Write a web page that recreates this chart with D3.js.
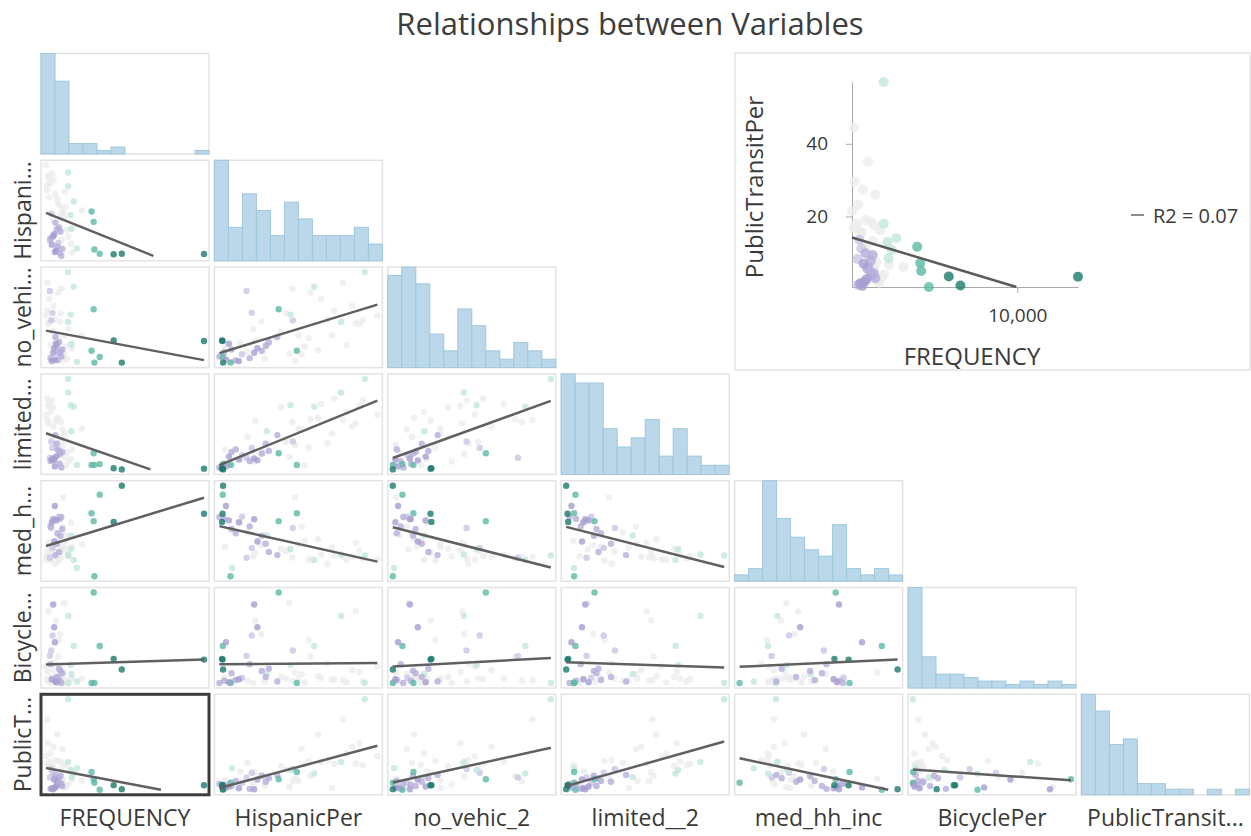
<!DOCTYPE html>
<html>
<head>
<meta charset="utf-8">
<script src="https://cdn.jsdelivr.net/npm/d3@7"></script>
<style>
  body { margin: 0; background: #fff; }
  svg text { font-family: "Open Sans", "Segoe UI", sans-serif; fill: #3a3a3a; }
</style>
</head>
<body>
<svg id="chart" width="1251" height="836"></svg>
<script>

// variables in matrix order, and the labels shown on the sides
var fields = ["FREQUENCY", "HispanicPer", "no_vehic_2", "limited__2", "med_hh_inc", "BicyclePer", "PublicTransitPer"];
var rowLabels = ["", "Hispani...", "no_vehi...", "limited...", "med_h...", "Bicycle...", "PublicT..."];
var colLabels = ["FREQUENCY", "HispanicPer", "no_vehic_2", "limited__2", "med_hh_inc", "BicyclePer", "PublicTransit..."];

// one value per tract
var FREQUENCY = [13650, 6580, 5880, 4680, 3980, 4160, 4220, 1964, 1970, 2720, 2190, 2250, 2450, 3150,
  820, 1240, 560, 1380, 930, 450, 1120, 1460, 680, 1050, 390, 1310, 760, 980, 620, 1190, 510, 870,
  1850, 2210, 1630, 1990, 1420, 2290, 1270, 1760, 1540, 920, 1330, 1680, 1180, 1470, 640, 1110, 280, 1020, 860, 1380, 150, 60, 430, 710, 340, 220, 560, 180];
var HispanicPer = [2.2, 2.4, 2.0, 2.3, 30.4, 23.5, 5.2, 56.2, 47.2, 5.8, 28.0, 19.0, 37.0, 31.0,
  3.5, 2.8, 8.4, 1.0, 4.6, 12.5, 9.6, 5.6, 14.2, 7.2, 11.3, 17.1, 15.4, 18.6, 13.3, 19.8, 28.9, 23.0,
  18.2, 8.9, 27.6, 13.8, 11.7, 3.1, 16.9, 33.4, 29.8, 14.6, 26.3, 43.7, 34.9, 32.2, 24.4, 35.6, 52.8, 38.5, 42.1, 28.7, 44.6, 61.0, 49.3, 51.4, 39.6, 54.1, 55.5, 47.9];
var no_vehic_2 = [8.6, 0.0, 8.8, 2.2, 4.7, 21.2, 0.0, 36.0, 16.2, 0.3, 19.1, 7.2, 30.2, 10.8,
  1.2, 4.1, 0.6, 2.4, 7.5, 1.8, 3.3, 5.2, 3.9, 0.9, 28.5, 4.6, 5.7, 6.6, 19.8, 8.1, 16.8, 10.2,
  1.5, 7.8, 3.6, 13.4, 4.4, 5.5, 16.3, 6.4, 0.7, 8.6, 19.5, 10.9, 9.7, 3.2, 12.6, 27.9, 15.8, 4.9, 17.2, 29.4, 20.6, 18.7, 7.1, 22.5, 25.3, 15.4, 16.9, 31.8];
var limited__2 = [0.2, 0.0, 0.3, 1.4, 1.2, 4.3, 1.2, 24.0, 20.4, 1.2, 17.0, 10.1, 16.6, 10.8,
  0.8, 1.5, 2.6, 0.5, 3.4, 2.2, 3.8, 4.6, 2.9, 5.3, 3.1, 4.2, 2.4, 6.8, 5.7, 4.9, 7.4, 9.1,
  4.5, 2.7, 3.3, 2.1, 8.6, 5.2, 4.1, 1.1, 6.5, 12.9, 7.3, 9.5, 5.8, 10.6, 16.4, 13.3, 12.2, 13.7, 6.9, 12.6, 18.8, 14.5, 15.2, 11.4, 17.3, 16.8, 18.3, 13.1];
var med_hh_inc = [102800, 140000, 92000, 128000, 103500, 93000, 20000, 47600, 48800, 30800, 56000, 74000, 41600, 62000,
  113000, 96000, 91500, 98500, 94000, 86000, 99000, 82500, 95500, 77000, 44500, 73500, 66000, 63000, 57500, 52000, 84000, 48000,
  74500, 91000, 55500, 46500, 78000, 59000, 61500, 67000, 124500, 51500, 53000, 58500, 40800, 85500, 56500, 43500, 64500, 69000, 36500, 44800, 47200, 42200, 41500, 45900, 48500, 54200, 43000, 46000];
var BicyclePer = [3.1, 1.8, 3.2, 4.9, 0.0, 12.0, 0.0, 0.0, 8.9, 0.2, 2.4, 1.2, 4.9, 0.6,
  5.4, 0.3, 0.5, 0.0, 0.1, 2.5, 0.7, 1.3, 10.4, 0.4, 3.6, 1.6, 7.4, 0.8, 6.3, 1.9, 4.3, 0.2,
  0.2, 0.5, 10.6, 0.0, 0.3, 0.7, 6.5, 0.1, 1.4, 8.3, 0.6, 0.4, 5.7, 1.2, 0.8, 3.5, 9.5, 0.9, 2.6, 0.3, 0.5, 2.2, 0.1, 1.7, 0.6, 1.5, 0.2, 0.4];
var PublicTransitPer = [3.4, 1.0, 3.5, 0.6, 11.7, 7.2, 5.0, 57.0, 18.0, 14.1, 13.0, 8.5, 10.8, 6.2,
  2.1, 3.8, 1.6, 4.4, 2.7, 1.2, 4.9, 3.0, 0.9, 6.1, 8.3, 9.4, 7.0, 5.6, 11.2, 7.8, 13.6, 9.9,
  3.2, 12.1, 2.4, 4.0, 17.5, 6.8, 8.9, 16.2, 7.5, 11.4, 13.2, 1.8, 18.6, 26.0, 15.5, 9.2, 17.0, 35.1, 19.0, 5.9, 16.8, 21.5, 23.2, 27.4, 18.1, 29.6, 15.9, 44.5];
// hot spot bin used for the point colours (-3 cold ... 3 hot)
var hotSpot = [3, 3, 3, 2, 2, 2, 2, 1, 1, 1, 1, 1, 1, 0,
  -3, -2, -3, -2, -3, -2, -1, -2, -3, -2, -1, -2, -3, -2, -1, -2, -1, -2,
  0, 0, 0, 0, 0, 0, 0, 0, 0, 0, 0, 0, 0, 0, 0, 0, 0, 0, 0, 0, 0, 0, 0, 0, 0, 0, 0, 0];

var hotColors = ["#a69dd1", "#b6aedb", "#cbc6e6", "#ececec", "#c3e7dd", "#5bb9a5", "#1b7a6b"];

var columns = [FREQUENCY, HispanicPer, no_vehic_2, limited__2, med_hh_inc, BicyclePer, PublicTransitPer];
var data = d3.range(FREQUENCY.length).map(function(i) {
  var row = { hot: hotSpot[i] };
  fields.forEach(function(f, k) { row[f] = columns[k][i]; });
  return row;
});
// coloured points on top of the grey ones
data.sort(function(a, b) { return Math.abs(a.hot) - Math.abs(b.hot) || a.hot - b.hot; });

var color = d3.scaleOrdinal().domain([-3, -2, -1, 0, 1, 2, 3]).range(hotColors);

// grid layout
var gridLeft = 41, gridTop = 53.5, stepX = 173.4, stepY = 106.8, cellW = 168, cellH = 100.5, pad = 5;
var selRow = 6, selCol = 0;

var svg = d3.select("#chart");

svg.append("text")
  .attr("x", 630).attr("y", 23)
  .attr("text-anchor", "middle")
  .attr("dominant-baseline", "central")
  .style("font-size", "31px")
  .style("fill", "#3d3d3d")
  .text("Relationships between Variables");

// least squares fit
function fit(xs, ys) {
  var mx = d3.mean(xs), my = d3.mean(ys);
  var sxy = d3.sum(xs, function(x, i) { return (x - mx) * (ys[i] - my); });
  var sxx = d3.sum(xs, function(x) { return (x - mx) * (x - mx); });
  var syy = d3.sum(ys, function(y) { return (y - my) * (y - my); });
  var b = sxy / sxx;
  return { a: my - b * mx, b: b, r2: (sxy * sxy) / (sxx * syy) };
}

// fitted segment across the x range, cut where it leaves the y range
function segment(f, xd, yd) {
  var pts = [xd[0], xd[1]].map(function(x) { return [x, f.a + f.b * x]; });
  pts.forEach(function(p) {
    if (p[1] < yd[0]) { p[0] = (yd[0] - f.a) / f.b; p[1] = yd[0]; }
    if (p[1] > yd[1]) { p[0] = (yd[1] - f.a) / f.b; p[1] = yd[1]; }
  });
  return pts;
}

var extents = fields.map(function(f) { return d3.extent(data, function(d) { return d[f]; }); });

fields.forEach(function(yf, r) {
  fields.forEach(function(xf, c) {
    if (c > r) return;
    var cx = gridLeft + c * stepX, cy = gridTop + r * stepY;
    var g = svg.append("g");

    if (r === c) {
      // histogram on the diagonal
      var vals = data.map(function(d) { return d[xf]; });
      var ext = extents[c];
      var th = d3.range(1, 12).map(function(k) { return ext[0] + k * (ext[1] - ext[0]) / 12; });
      var bins = d3.bin().domain(ext).thresholds(th)(vals);
      var hx = d3.scaleLinear().domain(ext).range([cx, cx + cellW]);
      var hy = d3.scaleLinear().domain([0, d3.max(bins, function(b) { return b.length; })]).range([cy + cellH, cy]);
      g.append("rect")
        .attr("x", cx).attr("y", cy).attr("width", cellW).attr("height", cellH)
        .attr("fill", "none").attr("stroke", "#e3e3e3").attr("stroke-width", 1.5);
      g.selectAll(".bar")
        .data(bins.filter(function(b) { return b.length > 0; }))
        .enter().append("rect")
        .attr("class", "bar")
        .attr("x", function(b) { return hx(b.x0); })
        .attr("y", function(b) { return hy(b.length); })
        .attr("width", function(b) { return hx(b.x1) - hx(b.x0); })
        .attr("height", function(b) { return cy + cellH - hy(b.length); })
        .attr("fill", "#bad8e9")
        .attr("stroke", "#9fc7dd")
        .attr("stroke-width", 1);
    } else {
      var sx = d3.scaleLinear().domain(extents[c]).range([cx + pad, cx + cellW - pad]);
      var sy = d3.scaleLinear().domain(extents[r]).range([cy + cellH - pad, cy + pad]);
      var sel = (r === selRow && c === selCol);
      g.append("rect")
        .attr("x", cx).attr("y", cy).attr("width", cellW).attr("height", cellH)
        .attr("fill", "#fff")
        .attr("stroke", sel ? "#3c3c3c" : "#e3e3e3")
        .attr("stroke-width", sel ? 3 : 1.5);
      g.selectAll("circle")
        .data(data)
        .enter().append("circle")
        .attr("cx", function(d) { return sx(d[xf]); })
        .attr("cy", function(d) { return sy(d[yf]); })
        .attr("r", 3.2)
        .attr("fill", function(d) { return color(d.hot); })
        .attr("fill-opacity", 0.8);
      var f = fit(data.map(function(d) { return d[xf]; }), data.map(function(d) { return d[yf]; }));
      var seg = segment(f, extents[c], extents[r]);
      g.append("line")
        .attr("x1", sx(seg[0][0])).attr("y1", sy(seg[0][1]))
        .attr("x2", sx(seg[1][0])).attr("y2", sy(seg[1][1]))
        .attr("stroke", "#606060").attr("stroke-width", 2.5);
    }
  });
});

// side labels
rowLabels.forEach(function(t, i) {
  if (!t) return;
  var y = gridTop + i * stepY + cellH / 2;
  svg.append("text")
    .attr("transform", "translate(22," + y + ") rotate(-90)")
    .attr("text-anchor", "middle")
    .attr("dominant-baseline", "central")
    .style("font-size", "23px")
    .text(t);
});
colLabels.forEach(function(t, i) {
  svg.append("text")
    .attr("x", gridLeft + i * stepX + cellW / 2)
    .attr("y", 817)
    .attr("text-anchor", "middle")
    .attr("dominant-baseline", "central")
    .style("font-size", "23px")
    .text(t);
});

// enlarged view of the selected pair
var bx = 735, by = 53, bw = 515, bh = 317;
var big = svg.append("g");
big.append("rect")
  .attr("x", bx).attr("y", by).attr("width", bw).attr("height", bh)
  .attr("fill", "#fff").attr("stroke", "#e3e3e3").attr("stroke-width", 1.5);

var xField = fields[selCol], yField = fields[selRow];
var bxs = d3.scaleLinear().domain(extents[selCol]).range([852, 1078]);
var bys = d3.scaleLinear().domain(extents[selRow]).range([287, 82]);

var yAxis = big.append("g")
  .attr("transform", "translate(852,0)")
  .call(d3.axisLeft(bys).ticks(3).tickSize(6).tickSizeOuter(0).tickPadding(18));
var xAxis = big.append("g")
  .attr("transform", "translate(0,287)")
  .call(d3.axisBottom(bxs).ticks(1).tickFormat(d3.format(",")).tickSize(6).tickSizeOuter(0).tickPadding(16));
[xAxis, yAxis].forEach(function(ax) {
  ax.selectAll("path, line").attr("stroke", "#a8a8a8");
  ax.selectAll("text").style("font-size", "19px").attr("fill", "#444");
});

big.selectAll("circle")
  .data(data)
  .enter().append("circle")
  .attr("cx", function(d) { return bxs(d[xField]); })
  .attr("cy", function(d) { return bys(d[yField]); })
  .attr("r", 5)
  .attr("fill", function(d) { return color(d.hot); })
  .attr("fill-opacity", 0.8);

var bf = fit(data.map(function(d) { return d[xField]; }), data.map(function(d) { return d[yField]; }));
var bseg = segment(bf, extents[selCol], extents[selRow]);
big.append("line")
  .attr("x1", bxs(bseg[0][0])).attr("y1", bys(bseg[0][1]))
  .attr("x2", bxs(bseg[1][0])).attr("y2", bys(bseg[1][1]))
  .attr("stroke", "#5a5a5a").attr("stroke-width", 2.5);

big.append("text")
  .attr("transform", "translate(753,187) rotate(-90)")
  .attr("text-anchor", "middle")
  .attr("dominant-baseline", "central")
  .style("font-size", "24px")
  .text(yField);
big.append("text")
  .attr("x", 972).attr("y", 355)
  .attr("text-anchor", "middle")
  .attr("dominant-baseline", "central")
  .style("font-size", "24px")
  .text(xField);

// legend
big.append("line")
  .attr("x1", 1131).attr("x2", 1144).attr("y1", 215).attr("y2", 215)
  .attr("stroke", "#666").attr("stroke-width", 1.5);
big.append("text")
  .attr("x", 1153).attr("y", 215)
  .attr("dominant-baseline", "central")
  .style("font-size", "20px")
  .text("R2 = " + bf.r2.toFixed(2));

</script>
</body>
</html>
